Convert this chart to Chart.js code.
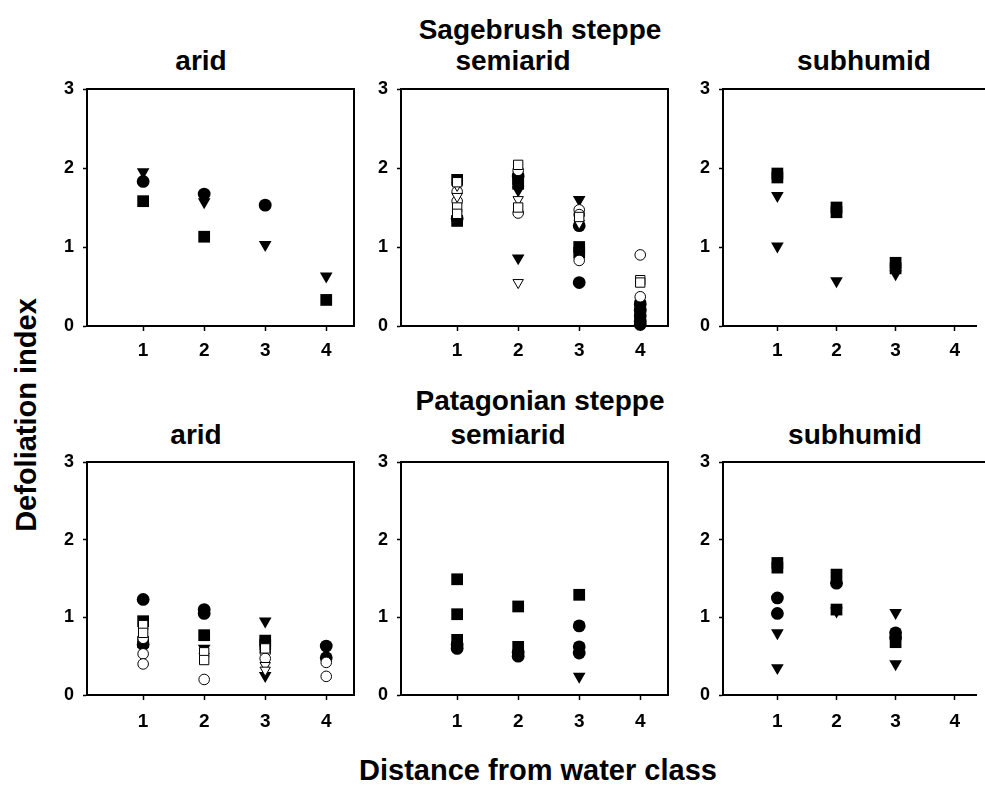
<!DOCTYPE html>
<html>
<head>
<meta charset="utf-8">
<title>Defoliation index by distance from water class</title>
<script src="https://cdn.jsdelivr.net/npm/chart.js@4/dist/chart.umd.min.js"></script>
<style>
  html, body { margin: 0; padding: 0; background: #fff; overflow: hidden; width: 985px; height: 786px; }
  #fig { position: relative; width: 985px; height: 786px; overflow: hidden;
         font-family: "Liberation Sans", Arial, sans-serif; }
  .t { position: absolute; font-weight: bold; font-size: 28px; line-height: 28px;
       color: #000; white-space: nowrap; transform: translateX(-50%); }
  .ylab { position: absolute; font-weight: bold; font-size: 29px; line-height: 29px;
          white-space: nowrap; transform: translate(-50%, -50%) rotate(-90deg); }
  canvas { position: absolute; }
</style>
</head>
<body>
<div id="fig">
<div class="t" style="left:540px; top:16px;">Sagebrush steppe</div>
<div class="t" style="left:201px; top:47px;">arid</div>
<div class="t" style="left:513px; top:47px;">semiarid</div>
<div class="t" style="left:864px; top:47px;">subhumid</div>
<div class="t" style="left:540px; top:387px;">Patagonian steppe</div>
<div class="t" style="left:196px; top:421px;">arid</div>
<div class="t" style="left:508px; top:421px;">semiarid</div>
<div class="t" style="left:855px; top:421px;">subhumid</div>
<div class="ylab" style="left:26px; top:415px;">Defoliation index</div>
<div class="t" style="left:538px; top:756px; font-size:29px; line-height:29px;">Distance from water class</div>
</div>

<script>
// Axis ticks
const xTicks = [1, 2, 3, 4];
const yTicks = [0, 1, 2, 3];

// Sagebrush steppe, arid — [distance class, defoliation index]
const sageAridFilledCircle   = [[1, 1.83], [2, 1.67], [3, 1.53]];
const sageAridFilledSquare   = [[1, 1.58], [2, 1.13], [4, 0.33]];
const sageAridFilledTriangle = [[1, 1.95], [2, 1.57], [3, 1.03], [4, 0.63]];

// Sagebrush steppe, semiarid
const sageSemiFilledCircle   = [[1, 1.36], [2, 1.90], [3, 1.27], [3, 0.55],
                                [4, 0.28], [4, 0.20], [4, 0.13], [4, 0.06], [4, 0.02]];
const sageSemiFilledSquare   = [[1, 1.85], [1, 1.33], [2, 1.86], [2, 1.80],
                                [3, 1.00], [3, 0.93], [4, 0.25], [4, 0.10]];
const sageSemiFilledTriangle = [[2, 1.72], [2, 0.86], [3, 1.60], [4, 0.17]];
const sageSemiOpenCircle     = [[1, 1.70], [1, 1.58], [2, 1.97], [2, 1.43],
                                [3, 1.47], [3, 1.41], [3, 0.83], [4, 0.90], [4, 0.37]];
const sageSemiOpenSquare     = [[1, 1.82], [1, 1.50], [1, 1.42], [2, 2.04], [2, 1.50],
                                [3, 1.38], [4, 0.58], [4, 0.55]];
const sageSemiOpenTriangle   = [[1, 1.78], [1, 1.64], [2, 1.60], [2, 0.55], [3, 1.30]];

// Sagebrush steppe, subhumid
const sageHumFilledSquare    = [[1, 1.93], [1, 1.88], [2, 1.50], [2, 1.44], [3, 0.80], [3, 0.73]];
const sageHumFilledTriangle  = [[1, 1.65], [1, 1.01], [2, 0.57], [3, 0.66]];

// Patagonian steppe, arid
const patAridFilledCircle    = [[1, 1.23], [1, 0.65], [2, 1.10], [2, 1.05], [4, 0.63], [4, 0.48]];
const patAridFilledSquare    = [[1, 0.95], [1, 0.68], [2, 0.77], [3, 0.70], [3, 0.65]];
const patAridFilledTriangle  = [[2, 0.60], [3, 0.95], [3, 0.25]];
const patAridOpenCircle      = [[1, 0.73], [1, 0.53], [1, 0.40], [2, 0.20],
                                [3, 0.55], [3, 0.47], [4, 0.42], [4, 0.24]];
const patAridOpenSquare      = [[1, 0.90], [1, 0.80], [2, 0.55], [2, 0.45], [3, 0.60]];
const patAridOpenTriangle    = [[2, 0.50], [3, 0.38], [3, 0.32]];

// Patagonian steppe, semiarid
const patSemiFilledCircle    = [[1, 0.65], [1, 0.60], [2, 0.55], [2, 0.50],
                                [3, 0.89], [3, 0.62], [3, 0.54]];
const patSemiFilledSquare    = [[1, 1.49], [1, 1.04], [1, 0.71], [2, 1.14], [2, 0.62], [3, 1.29]];
const patSemiFilledTriangle  = [[3, 0.24]];

// Patagonian steppe, subhumid
const patHumFilledCircle     = [[1, 1.25], [1, 1.05], [2, 1.44], [3, 0.80], [3, 0.74]];
const patHumFilledSquare     = [[1, 1.70], [1, 1.64], [2, 1.55], [2, 1.10], [3, 0.68]];
const patHumFilledTriangle   = [[1, 0.80], [1, 0.35], [2, 1.08], [3, 1.06], [3, 0.40]];

// Marker appearance
const markers = {
  filledCircle:   { pointStyle: 'circle',   pointRadius: 6.4, pointRotation: 0,   fill: '#000', bw: 0, order: 1 },
  filledSquare:   { pointStyle: 'rect',     pointRadius: 8.3, pointRotation: 0,   fill: '#000', bw: 0, order: 1 },
  filledTriangle: { pointStyle: 'triangle', pointRadius: 7.3, pointRotation: 180, fill: '#000', bw: 0, order: 1 },
  openCircle:     { pointStyle: 'circle',   pointRadius: 5.3, pointRotation: 0,   fill: '#fff', bw: 1, order: 0 },
  openSquare:     { pointStyle: 'rect',     pointRadius: 6.6, pointRotation: 0,   fill: '#fff', bw: 1, order: 0 },
  openTriangle:   { pointStyle: 'triangle', pointRadius: 6.0, pointRotation: 180, fill: '#fff', bw: 1, order: 0 }
};

const FONT = '"Liberation Sans", Arial, sans-serif';
const X_MIN = 0.08;
const fig = document.getElementById('fig');

// top side (and right side where the box closes inside the figure)
const boxFrame = {
  id: 'boxFrame',
  afterDraw(chart, args, opts) {
    const { ctx, chartArea: a } = chart;
    ctx.save();
    ctx.strokeStyle = '#000';
    ctx.lineWidth = 2;
    ctx.beginPath();
    ctx.moveTo(a.left - 1, a.top);
    if (opts.closeRight) {
      ctx.lineTo(a.right, a.top);
      ctx.lineTo(a.right, a.bottom + 1);
    } else {
      ctx.lineTo(chart.width, a.top);
    }
    ctx.stroke();
    ctx.restore();
  }
};

function dataset(points, kind) {
  const m = markers[kind];
  return {
    label: kind,
    data: points.map(([x, y]) => ({ x, y })),
    pointStyle: m.pointStyle,
    pointRadius: m.pointRadius,
    pointHoverRadius: m.pointRadius,
    pointRotation: m.pointRotation,
    backgroundColor: m.fill,
    borderColor: '#000',
    pointBorderWidth: m.bw,
    borderWidth: m.bw,
    order: m.order,
    clip: false
  };
}

// fixed axis sizes, no extra room reserved for edge labels
function fixX(h) {
  return s => { s.height = h; s.paddingLeft = 0; s.paddingRight = 0; };
}
function fixY(w) {
  return s => { s.width = w; s.paddingTop = 0; s.paddingBottom = 0; };
}

function panel(left, top, width, height, xMax, closeRight, xLabelPad, series) {
  const padL = 45, padT = 12, padB = 45;
  const padR = closeRight ? 12 : 0;
  const cv = document.createElement('canvas');
  const w = padL + width + padR, h = padT + height + padB;
  cv.width = w; cv.height = h;
  cv.style.width = w + 'px'; cv.style.height = h + 'px';
  cv.style.left = (left - padL) + 'px';
  cv.style.top = (top - padT) + 'px';
  fig.appendChild(cv);

  new Chart(cv, {
    type: 'scatter',
    data: { datasets: series.map(([pts, kind]) => dataset(pts, kind)) },
    options: {
      responsive: false,
      animation: false,
      devicePixelRatio: 1,
      layout: { padding: { left: 0, top: padT, right: padR, bottom: 0 } },
      plugins: { legend: { display: false }, tooltip: { enabled: false },
                 boxFrame: { closeRight } },
      scales: {
        x: {
          type: 'linear', min: X_MIN, max: xMax,
          afterBuildTicks: s => { s.ticks = xTicks.map(v => ({ value: v })); },
          afterFit: fixX(padB),
          ticks: { color: '#000', padding: xLabelPad, maxRotation: 0, autoSkip: false,
                   font: { family: FONT, size: 19, weight: 'bold' } },
          grid: { display: true, drawOnChartArea: false, drawTicks: true,
                  tickLength: 5, tickWidth: 1.5, tickColor: '#000', color: '#000' },
          border: { display: true, color: '#000', width: 2 }
        },
        y: {
          type: 'linear', min: 0, max: 3,
          afterBuildTicks: s => { s.ticks = yTicks.map(v => ({ value: v })); },
          afterFit: fixY(padL),
          ticks: { color: '#000', padding: 9,
                   font: { family: FONT, size: 18, weight: 'bold' } },
          grid: { display: true, drawOnChartArea: false, drawTicks: true,
                  tickLength: 4, tickWidth: 1.5, tickColor: '#000', color: '#000' },
          border: { display: true, color: '#000', width: 2 }
        }
      }
    },
    plugins: [boxFrame]
  });
}

// columns: left edge, plot width, axis maximum, whether the box closes on the right
const cols = [
  [87, 267, 4.455, true],
  [401, 267, 4.455, true],
  [723, 262, 4.372, false]
];
const rows = [[89, 237, 8], [462, 233, 10]];

const panels = [
  [0, 0, [[sageAridFilledSquare, 'filledSquare'], [sageAridFilledTriangle, 'filledTriangle'],
          [sageAridFilledCircle, 'filledCircle']]],
  [0, 1, [[sageSemiFilledSquare, 'filledSquare'], [sageSemiFilledTriangle, 'filledTriangle'],
          [sageSemiFilledCircle, 'filledCircle'], [sageSemiOpenSquare, 'openSquare'],
          [sageSemiOpenTriangle, 'openTriangle'], [sageSemiOpenCircle, 'openCircle']]],
  [0, 2, [[sageHumFilledSquare, 'filledSquare'], [sageHumFilledTriangle, 'filledTriangle']]],
  [1, 0, [[patAridFilledSquare, 'filledSquare'], [patAridFilledTriangle, 'filledTriangle'],
          [patAridFilledCircle, 'filledCircle'], [patAridOpenSquare, 'openSquare'],
          [patAridOpenTriangle, 'openTriangle'], [patAridOpenCircle, 'openCircle']]],
  [1, 1, [[patSemiFilledSquare, 'filledSquare'], [patSemiFilledTriangle, 'filledTriangle'],
          [patSemiFilledCircle, 'filledCircle']]],
  [1, 2, [[patHumFilledSquare, 'filledSquare'], [patHumFilledTriangle, 'filledTriangle'],
          [patHumFilledCircle, 'filledCircle']]]
];

panels.forEach(([r, c, series]) => {
  const [top, height, pad] = rows[r];
  const [left, width, xMax, closeRight] = cols[c];
  panel(left, top, width, height, xMax, closeRight, pad, series);
});
</script>
</body>
</html>
